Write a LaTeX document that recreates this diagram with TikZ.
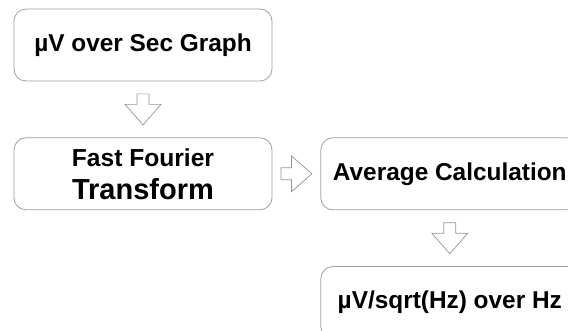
\documentclass[tikz,border=0pt]{standalone}
\usepackage{fontspec}
\setmainfont{Liberation Sans}
\usetikzlibrary{positioning,calc}

\tikzset{
  stagebox/.style={draw=gray!75, line width=0.8pt, rounded corners=12pt,
    minimum width=258pt, minimum height=72pt, inner sep=0pt, align=center,
    font=\bfseries\fontsize{24.4}{29}\selectfont},
  hollowarrow/.pic={
    \draw[gray!85, line width=0.7pt, line join=miter]
      (-15.5,-6) -- (-5,-6) -- (-5,-18) -- (15.5,0) -- (-5,18) -- (-5,6) -- (-15.5,6) -- cycle;
  }
}

\begin{document}
\begin{tikzpicture}[x=1pt,y=1pt]
            \clip (0,0) rectangle (568,331);

            % processing stages
            \node[stagebox] (graph) at (143,286) {µV over Sec Graph};
            \node[stagebox, below=56pt of graph, font=\bfseries\fontsize{24.6}{33}\selectfont] (fft)
                {Fast Fourier\\{\fontsize{29}{33}\selectfont Transform}};
            \node[stagebox, right=48pt of fft] (avg) {Average Calculation};
            \node[stagebox, below=56pt of avg] (psd) {µV/sqrt(Hz) over Hz};

            % block arrows between the stages
            \pic[rotate=-90] at ($(graph.south)!0.5!(fft.north)$) {hollowarrow};
            \pic at ($(fft.east)!0.5!(avg.west)$) {hollowarrow};
            \pic[rotate=-90] at ($(avg.south)!0.5!(psd.north)$) {hollowarrow};
\end{tikzpicture}
\end{document}
